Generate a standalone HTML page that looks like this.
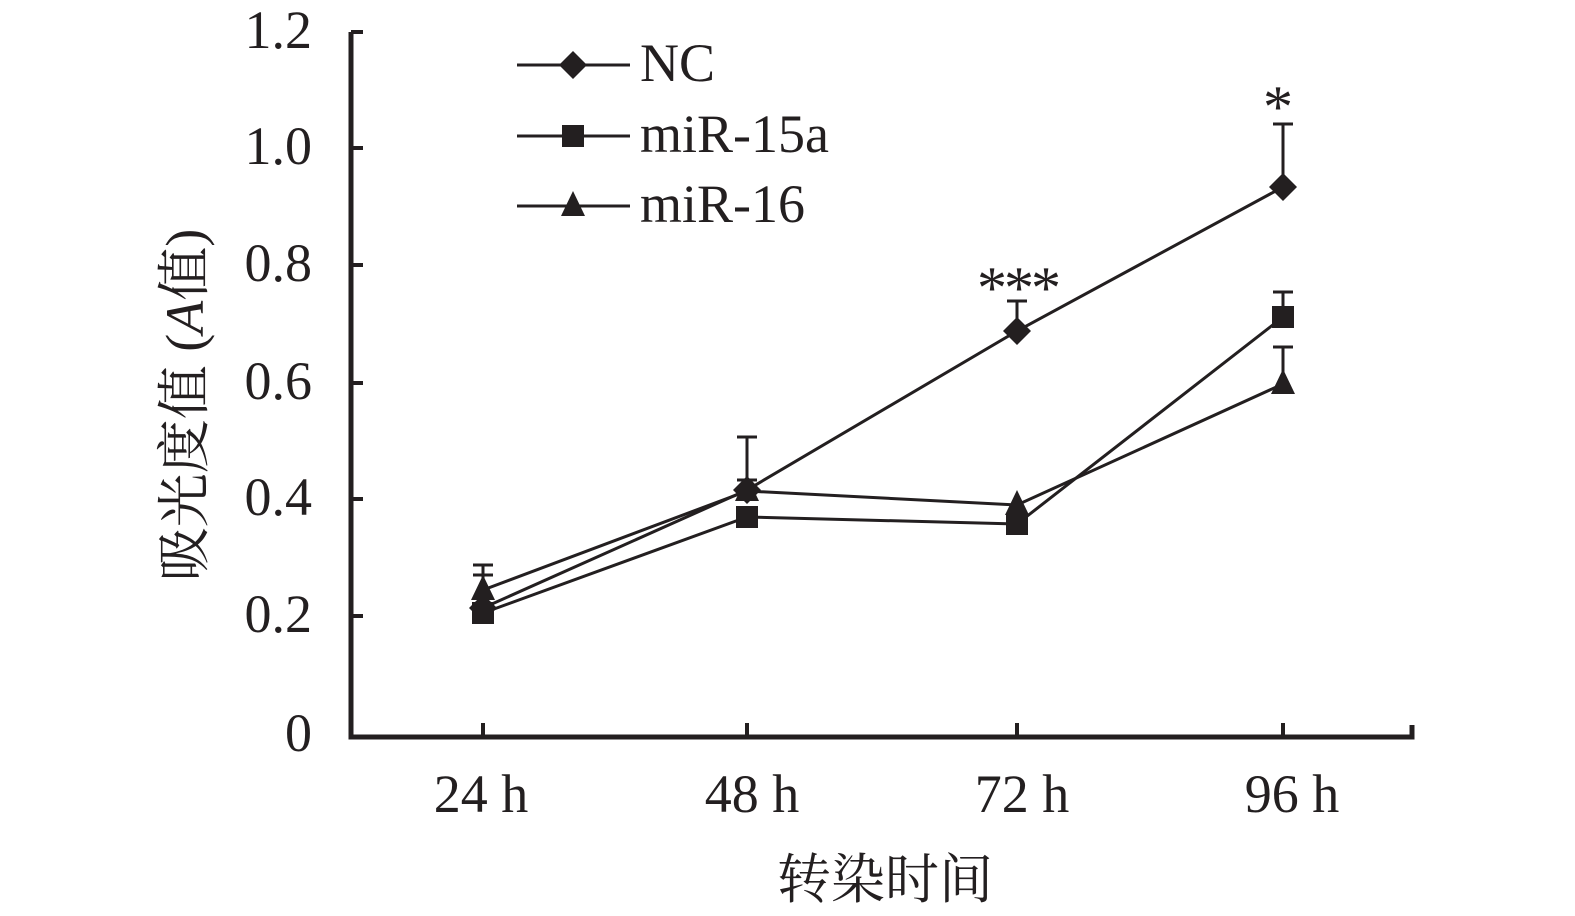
<!DOCTYPE html>
<html><head><meta charset="utf-8"><style>
body{margin:0;background:#fff}
svg text{font-family:"Liberation Serif","Noto Serif CJK SC",serif;fill:#231f20}
</style></head><body>
<svg width="1575" height="911" viewBox="0 0 1575 911" xmlns="http://www.w3.org/2000/svg">
<defs>
<path id="dia" d="M0,-14 L14,0 L0,14 L-14,0Z"/>
<rect id="sq" x="-11" y="-11" width="22" height="22"/>
<path id="tri" d="M0,-15 L12,10 L-12,10Z"/>
</defs>
<g stroke="#231f20" fill="none">
<path d="M351,32 V737 H1412 V725" stroke-width="5"/>
<g stroke-width="4">
<path d="M351,32h12M351,148h12M351,265h12M351,383h12M351,499h12M351,616h12"/>
<path d="M483,737v-14M747,737v-14M1017,737v-14M1283,737v-14"/>
</g>
<g stroke-width="3">
<path d="M483,590V565M473,565h20M483,575h-10h20"/>
<path d="M747,490V437M737,437h20M747,480h-10h20"/>
<path d="M1017,331V301M1007,301h20"/>
<path d="M1283,187V124M1273,124h20"/>
<path d="M1283,317V292M1273,292h20"/>
<path d="M1283,384V347M1273,347h20"/>
<polyline points="483,608 747,490 1017,331 1283,187"/>
<polyline points="483,613 747,517 1017,524 1283,317"/>
<polyline points="483,590 747,491 1017,505 1283,384"/>
<path d="M517,65h113M517,136h113M517,206h113"/>
</g>
</g>
<g fill="#231f20">
<use href="#dia" x="483" y="608"/><use href="#dia" x="747" y="490"/><use href="#dia" x="1017" y="331"/><use href="#dia" x="1283" y="187"/>
<use href="#sq" x="483" y="613"/><use href="#sq" x="747" y="517"/><use href="#sq" x="1017" y="524"/><use href="#sq" x="1283" y="317"/>
<use href="#tri" x="483" y="590"/><use href="#tri" x="747" y="491"/><use href="#tri" x="1017" y="505"/><use href="#tri" x="1283" y="384"/>
<use href="#dia" x="573" y="65"/><use href="#sq" x="573" y="136"/><use href="#tri" x="573" y="206"/>
</g>
<g font-size="54">
<text x="640" y="81">NC</text>
<text x="640" y="152">miR-15a</text>
<text x="640" y="222">miR-16</text>
<g text-anchor="end">
<text x="312" y="48">1.2</text><text x="312" y="164">1.0</text><text x="312" y="281">0.8</text>
<text x="312" y="399">0.6</text><text x="312" y="515">0.4</text><text x="312" y="632">0.2</text><text x="312" y="751">0</text>
</g>
<g text-anchor="middle">
<text x="481" y="812">24 h</text><text x="752" y="812">48 h</text><text x="1022" y="812">72 h</text><text x="1292" y="812">96 h</text>
<text font-size="60"><tspan x="992" y="308">*</tspan><tspan x="1019" y="308">*</tspan><tspan x="1046" y="308">*</tspan></text>
<text x="1278" y="127" font-size="60">*</text>
<text x="885" y="898">转染时间</text>
<text transform="translate(203,405) rotate(-90)">吸光度值 (<tspan font-style="italic">A</tspan>值)</text>
</g>
</g>
</svg>
</body></html>
